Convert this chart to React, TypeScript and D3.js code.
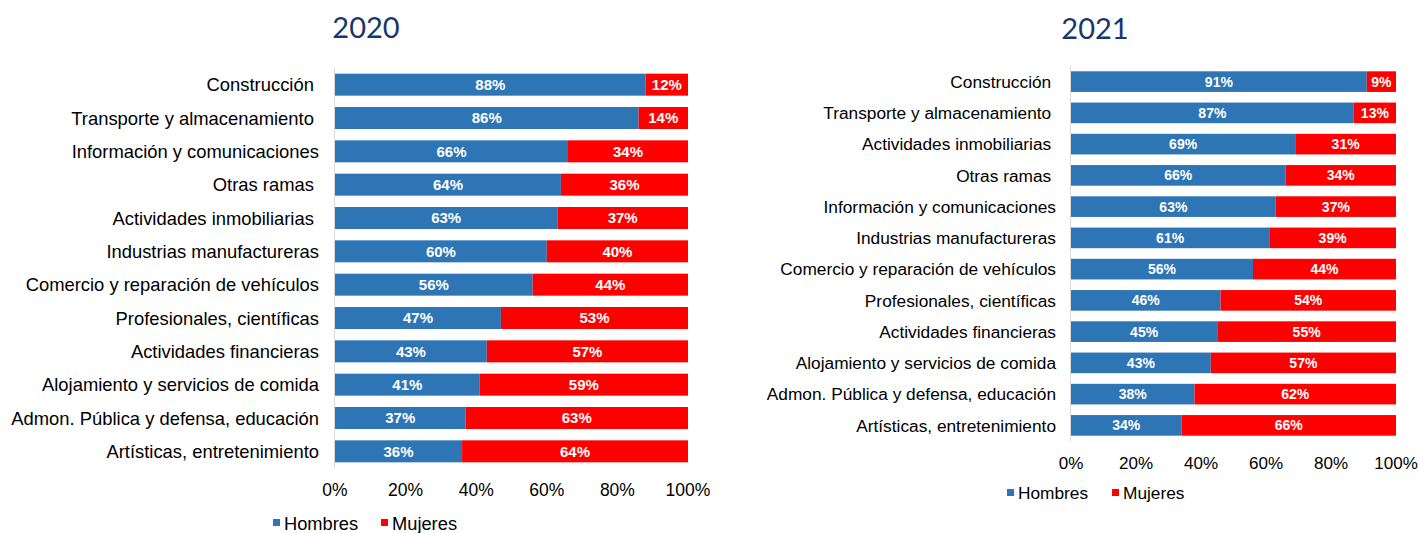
import React from "react";
import * as d3 from "d3";

const categories2020 = [
  "Construcción ",
  "Transporte y almacenamiento ",
  "Información y comunicaciones",
  "Otras ramas ",
  "Actividades inmobiliarias ",
  "Industrias manufactureras",
  "Comercio y reparación de vehículos",
  "Profesionales, científicas",
  "Actividades financieras",
  "Alojamiento y servicios de comida",
  "Admon. Pública y defensa, educación",
  "Artísticas, entretenimiento",
];
const hombres2020 = [88, 86, 66, 64, 63, 60, 56, 47, 43, 41, 37, 36];
const mujeres2020 = [12, 14, 34, 36, 37, 40, 44, 53, 57, 59, 63, 64];

const categories2021 = [
  "Construcción ",
  "Transporte y almacenamiento ",
  "Actividades inmobiliarias ",
  "Otras ramas ",
  "Información y comunicaciones",
  "Industrias manufactureras",
  "Comercio y reparación de vehículos",
  "Profesionales, científicas",
  "Actividades financieras",
  "Alojamiento y servicios de comida",
  "Admon. Pública y defensa, educación",
  "Artísticas, entretenimiento",
];
const hombres2021 = [91, 87, 69, 66, 63, 61, 56, 46, 45, 43, 38, 34];
const mujeres2021 = [9, 13, 31, 34, 37, 39, 44, 54, 55, 57, 62, 66];

const xTicks = [0, 20, 40, 60, 80, 100];
const seriesNames = ["Hombres", "Mujeres"];

const BLUE = "#2E75B6";
const RED = "#FF0000";
const FONT = "'Liberation Sans', Arial, sans-serif";

type Cfg = {
  title: string;
  titleX: number;
  titleY: number;
  x0: number;
  x1: number;
  y0: number;
  y1: number;
  labelX: number;
  labelSize: number;
  valueSize: number;
  tickY: number;
  tickSize: number;
  legendY: number;
  legendX: number;
  legendGap: number;
  legendSize: number;
  categories: string[];
  hombres: number[];
  mujeres: number[];
};

function Chart(c: Cfg) {
  const x = d3.scaleLinear().domain([0, 100]).range([c.x0, c.x1]);
  const y = d3
    .scaleBand<string>()
    .domain(c.categories)
    .range([c.y0, c.y1])
    .paddingInner(0.34)
    .paddingOuter(0.17);
  const bw = y.bandwidth();
  return (
    <g>
      <text
        x={c.titleX}
        y={c.titleY}
        textAnchor="middle"
        fontFamily="Lato, 'Open Sans', sans-serif"
        fontSize={29}
        fill="#1A3668"
      >
        {c.title}
      </text>
      {c.categories.map((cat, i) => {
        const yy = y(cat)!;
        const h = c.hombres[i];
        const m = c.mujeres[i];
        return (
          <g key={cat}>
            <rect x={x(0)} y={yy} width={x(h) - x(0)} height={bw} fill={BLUE} />
            <rect x={x(h)} y={yy} width={x(h + m) - x(h)} height={bw} fill={RED} />
            <text
              x={(x(0) + x(h)) / 2}
              y={yy + bw / 2}
              dy="0.36em"
              textAnchor="middle"
              fontFamily={FONT}
              fontWeight="bold"
              fontSize={c.valueSize}
              fill="#fff"
            >
              {h}%
            </text>
            <text
              x={(x(h) + x(h + m)) / 2}
              y={yy + bw / 2}
              dy="0.36em"
              textAnchor="middle"
              fontFamily={FONT}
              fontWeight="bold"
              fontSize={c.valueSize}
              fill="#fff"
            >
              {m}%
            </text>
            <text
              x={c.labelX}
              y={yy + bw / 2}
              dy="0.36em"
              textAnchor="end"
              fontFamily={FONT}
              fontSize={c.labelSize}
              fill="#000"
              style={{ whiteSpace: "pre" }}
            >
              {cat}
            </text>
          </g>
        );
      })}
      <line x1={x(0) - 0.5} x2={x(0) - 0.5} y1={c.y0} y2={c.y1} stroke="#D9D9D9" strokeWidth={1} />
      {xTicks.map((t) => (
        <text
          key={t}
          x={x(t)}
          y={c.tickY}
          dy="0.36em"
          textAnchor="middle"
          fontFamily={FONT}
          fontSize={c.tickSize}
          fill="#000"
        >
          {t}%
        </text>
      ))}
      {seriesNames.map((s, i) => {
        const lx = c.legendX + i * c.legendGap;
        return (
          <g key={s}>
            <rect x={lx} y={c.legendY - 4} width={7} height={7} fill={i === 0 ? BLUE : RED} />
            <text
              x={lx + 11}
              y={c.legendY}
              dy="0.36em"
              fontFamily={FONT}
              fontSize={c.legendSize}
              fill="#000"
            >
              {s}
            </text>
          </g>
        );
      })}
    </g>
  );
}

export default function App() {
  return (
    <svg
      width={1419}
      height={533}
      style={{ position: "absolute", left: 0, top: 0, background: "#fff" }}
    >
      <rect width={1419} height={533} fill="#fff" />
      <Chart
        title="2020"
        titleX={366}
        titleY={38}
        x0={335}
        x1={688}
        y0={68}
        y1={468}
        labelX={319}
        labelSize={18.4}
        valueSize={15}
        tickY={490}
        tickSize={17.5}
        legendY={523}
        legendX={273}
        legendGap={108}
        legendSize={18.3}
        categories={categories2020}
        hombres={hombres2020}
        mujeres={mujeres2020}
      />
      <Chart
        title="2021"
        titleX={1095}
        titleY={39}
        x0={1071}
        x1={1396}
        y0={66}
        y1={441}
        labelX={1056}
        labelSize={17.3}
        valueSize={14}
        tickY={463}
        tickSize={17}
        legendY={493}
        legendX={1007}
        legendGap={105}
        legendSize={17.3}
        categories={categories2021}
        hombres={hombres2021}
        mujeres={mujeres2021}
      />
    </svg>
  );
}
